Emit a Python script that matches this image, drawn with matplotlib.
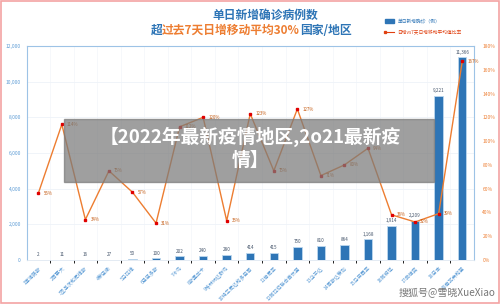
import matplotlib
matplotlib.use("Agg")
import matplotlib.pyplot as plt
from matplotlib.patches import Rectangle
from matplotlib.ticker import FuncFormatter, MultipleLocator

plt.rcParams['font.family'] = ['Noto Sans CJK SC', 'DejaVu Sans']

categories = ["1塞浦路斯", "2百慕大", "3圣基茨和尼维斯", "4黎巴嫩", "5马拉维", "6巴巴多斯",
              "7冰岛", "8斯里兰卡", "9格林纳达群岛", "10特立尼达和多巴哥", "11肯尼亚",
              "12阿拉伯联合酋长国", "13乌干达", "14哥斯达黎加", "15马来西亚", "16阿根廷",
              "17菲律宾", "18日本", "19南非共和国"]
new_cases = [2, 11, 16, 27, 50, 100, 202, 240, 280, 414, 415, 750, 810, 864, 1168, 1914, 2209, 9221, 11366]
ratio_pct = [56, 114, 34, 75, 57, 31, 112, 120, 33, 123, 75, 127, 71, 80, 94, 38, 32, 39, 167]

BLUE = "#2e75b6"
ORANGE = "#ed7d31"
AXBLUE = "#9dc3e6"
TICKBLUE = "#5b9bd5"

fig = plt.figure(figsize=(5.0, 3.04), dpi=100)
ax = fig.add_axes([0.053, 0.1447, 0.895, 0.704])
x = list(range(len(categories)))

ax.bar(x, new_cases, width=0.36, color=BLUE, edgecolor="#bdd7ee", linewidth=0.6, zorder=3)
for xi, v in zip(x, new_cases):
    ax.text(xi, v + 150, f"{v:,}", ha="center", va="bottom", fontsize=3.3, color="#44546a", zorder=5)

ax.set_xlim(-0.5, len(categories) - 0.5)
ax.set_ylim(0, 12000)
ax.yaxis.set_major_locator(MultipleLocator(2000))
ax.yaxis.set_major_formatter(FuncFormatter(lambda v, p: f"{int(v):,}"))
ax.tick_params(axis="y", labelsize=3.5, colors=TICKBLUE, length=0, pad=4)
ax.set_xticks(x)
ax.set_xticklabels(categories, rotation=45, ha="right", rotation_mode="anchor",
                   fontsize=3.6, color=TICKBLUE)
ax.tick_params(axis="x", length=0, pad=4)
ax.grid(axis="y", color="#eef3f8", linewidth=0.6, zorder=0)
ax.set_xticks([i + 0.5 for i in x[:-1]], minor=True)
ax.grid(axis="x", which="minor", color="#f3f6fa", linewidth=0.5, zorder=0)
for s in ["left", "top", "right"]:
    ax.spines[s].set_color(AXBLUE)
    ax.spines[s].set_linewidth(0.8)
ax.spines["bottom"].set_color("#dfe8f1")
ax.spines["bottom"].set_linewidth(0.6)

ax2 = ax.twinx()
ax2.set_ylim(0, 180)
ax2.yaxis.set_major_locator(MultipleLocator(20))
ax2.yaxis.set_major_formatter(FuncFormatter(lambda v, p: f"{int(v)}%"))
ax2.tick_params(axis="y", labelsize=3.5, colors=ORANGE, length=0, pad=6)
for s in ["left", "top", "right", "bottom"]:
    ax2.spines[s].set_visible(False)
ax2.plot(x, ratio_pct, color=ORANGE, linewidth=1.0, zorder=4)
ax2.plot(x, ratio_pct, linestyle="none", marker="s", markersize=1.8, color="#e00000", zorder=5)
for xi, v in zip(x, ratio_pct):
    ax2.text(xi + 0.22, v, f"{v}%", ha="left", va="center", fontsize=3.2, color="#c55a11", zorder=5)

# Titles
fig.text(0.53, 0.95, "单日新增确诊病例数", ha="center", va="center", fontsize=8.5,
         fontweight="bold", color=BLUE)
parts = [("超", BLUE), ("过去7天日增移动平均30%", ORANGE), ("国家/地区", BLUE)]
fig.canvas.draw()
renderer = fig.canvas.get_renderer()
texts = []
for s, c in parts:
    t = fig.text(0, 0.9, s, ha="left", va="center", fontsize=8.5, fontweight="bold", color=c)
    texts.append(t)
widths = [t.get_window_extent(renderer).width for t in texts]
total = sum(widths)
start = 0.502 * fig.bbox.width - total / 2
for t, w in zip(texts, widths):
    t.set_x(start / fig.bbox.width)
    start += w

# Legend
fig.patches.append(Rectangle((0.77, 0.925), 0.017, 0.012, transform=fig.transFigure,
                             color=BLUE, figure=fig))
fig.text(0.795, 0.931, "单日新增确诊（例）", fontsize=3.4, color=BLUE, va="center")
fig.lines.append(plt.Line2D([0.77, 0.787], [0.894, 0.894], transform=fig.transFigure,
                            color="#e04010", linewidth=0.8, marker="s", markersize=1.4,
                            markevery=[0], figure=fig))
fig.text(0.795, 0.894, "日增vs7天日增移动平均值比率", fontsize=3.4, color="#e04010", va="center")

# Overlay banner
fig.patches.append(Rectangle((0.128, 0.4), 0.74, 0.207, transform=fig.transFigure,
                             color="#7a7a7a", alpha=0.72, figure=fig, zorder=10))
fig.text(0.5, 0.55, "【2022年最新疫情地区,2o21最新疫", ha="center", va="center",
         fontsize=13.5, fontweight="bold", color="white", zorder=11)
fig.text(0.5, 0.472, "情】", ha="center", va="center",
         fontsize=13.5, fontweight="bold", color="white", zorder=11)

# Watermark
fig.text(0.99, 0.035, "搜狐号@雪晓XueXiao", ha="right", va="center", fontsize=7.2,
         color="#777777", zorder=11)

# Outer border
fig.patches.append(Rectangle((0.002, 0.003), 0.996, 0.994, transform=fig.transFigure,
                             fill=False, edgecolor="#f4a3a3", linewidth=1.2, figure=fig))

fig.savefig("out.png", dpi=100)
